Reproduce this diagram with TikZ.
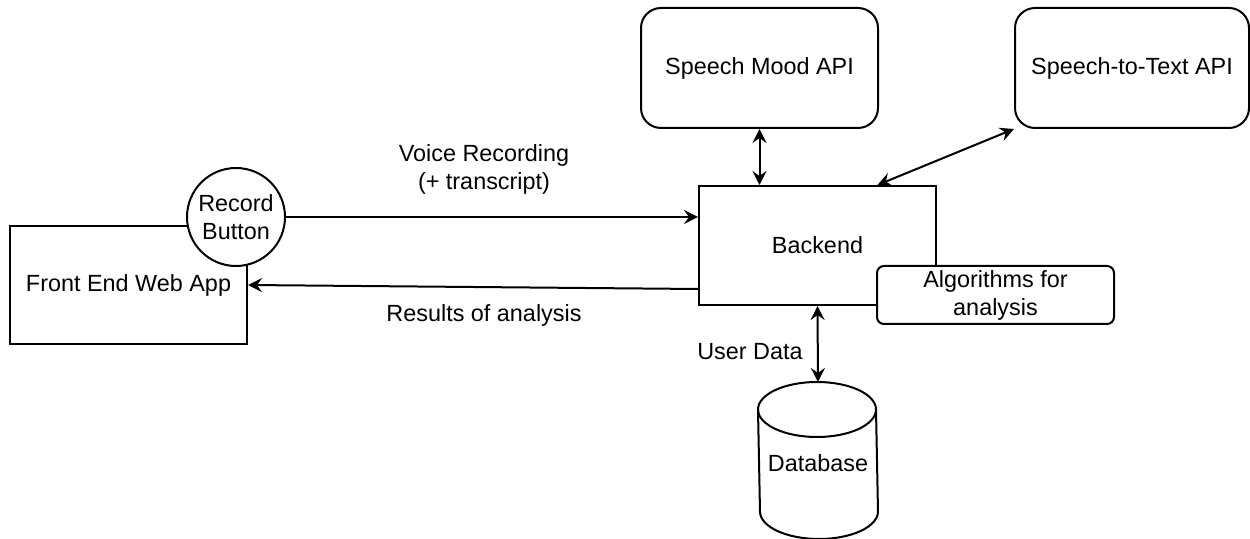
\documentclass[tikz,border=0pt]{standalone}
\usepackage{fontspec}
\setmainfont{Liberation Sans}
\usetikzlibrary{arrows.meta}
\begin{document}
\begin{tikzpicture}[x=0.5pt,y=-0.5pt,
  line width=1pt,
  every node/.style={font=\fontsize{11.7}{14}\selectfont, inner sep=0pt},
  box/.style={draw, rectangle, minimum width=118.5pt},
  rbox/.style={draw, rectangle, rounded corners=10pt, minimum width=118.5pt, minimum height=60pt},
  lbl/.style={align=center},
  >={Stealth[length=7pt,width=7pt,inset=2.5pt]}]
\useasboundingbox (0,0) rectangle (1250,539);
% boxes
\node[box, minimum height=59pt] (fe) at (128.5,285) {Front End Web App};
\node[draw, circle, fill=white, minimum size=49pt, align=center] (rec) at (236,217) {Record\\Button};
\node[box, minimum height=59.5pt] (be) at (817.5,245.5) {Backend};
\node[draw, rectangle, rounded corners=3.5pt, fill=white, minimum width=118.5pt, minimum height=29pt, align=center] (alg) at (995.5,295) {Algorithms for\\analysis};
\node[rbox] (mood) at (759.5,68) {Speech Mood API};
\node[rbox, minimum width=117pt] (stt) at (1132,68) {Speech-to-Text API};
% database cylinder
\node[minimum width=59pt, minimum height=77.5pt] (db) at (818,460.5) {};
\draw ([yshift=-13.75pt]db.north west) arc[start angle=180, end angle=0, x radius=29.5pt, y radius=13.75pt]
  -- ([yshift=13.75pt]db.south east) arc[start angle=0, end angle=-180, x radius=29.5pt, y radius=13.75pt] -- cycle;
\draw ([yshift=-13.75pt]db.north west) arc[start angle=180, end angle=360, x radius=29.5pt, y radius=13.75pt];
\node (dbt) at (818,463) {Database};
% connectors
\draw[->] (rec.east) -- (rec.east -| be.west);
\draw[->] ([yshift=-21.75pt]be.west) -- (fe.east);
\draw[<->] (mood.south) -- (mood.south |- be.north);
\draw[<->] ([xshift=30pt]be.north) -- (stt.south west);
\draw[<->] (be.south) -- (db.north);
% labels
\node[lbl] (vr) at (484,169) {Voice Recording\\(+ transcript)};
\node[lbl] (ra) at (484,315) {Results of analysis};
\node[lbl] (ud) at (750,352) {User Data};
\end{tikzpicture}
\end{document}
